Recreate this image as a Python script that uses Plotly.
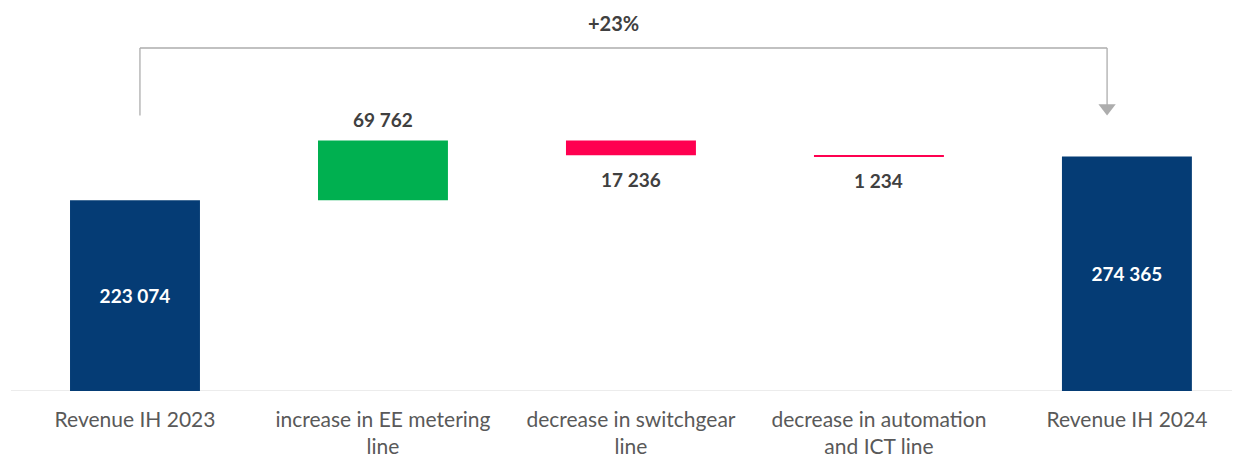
import plotly.graph_objects as go

categories = ["Revenue IH 2023", "increase in EE metering<br>line", "decrease in switchgear<br>line",
              "decrease in automation<br>and ICT line", "Revenue IH 2024"]
values = [223074, 69762, -17236, -1234, 274365]
measures = ["absolute", "relative", "relative", "relative", "absolute"]

NAVY = "#053C75"
GREEN = "#00B050"
RED = "#FF0050"
TXT = "#404040"
CAT = "#595959"
GRAY = "#ADADAD"

def fmt(v):
    return f"{abs(v):,}".replace(",", " ")

# running totals
ends = []
run = 0
for m, v in zip(measures, values):
    run = v if m == "absolute" else run + v
    ends.append(run)
peak = max(ends)
pct = round((values[-1] / values[0] - 1) * 100)

inside_text = [fmt(v) if m == "absolute" else "" for m, v in zip(measures, values)]

fig = go.Figure()
fig.add_trace(go.Waterfall(
    x=list(range(len(categories))), y=values, measure=measures,
    width=0.524,
    text=inside_text, textposition="inside", insidetextanchor="middle",
    insidetextfont=dict(color="white", size=19, family="Lato", weight="bold"),
    increasing=dict(marker=dict(color=GREEN)),
    decreasing=dict(marker=dict(color=RED)),
    totals=dict(marker=dict(color=NAVY)),
    connector=dict(visible=False),
    hoverinfo="skip",
))

# outside labels for relative bars
for i, (m, v) in enumerate(zip(measures, values)):
    if m != "relative":
        continue
    if v > 0:
        fig.add_annotation(x=i, y=ends[i], text=fmt(v), showarrow=False, yanchor="bottom", yshift=8,
                           font=dict(color=TXT, size=19, family="Lato", weight="bold"))
    else:
        fig.add_annotation(x=i, y=ends[i], text=fmt(v), showarrow=False, yanchor="top", yshift=-11,
                           font=dict(color=TXT, size=19, family="Lato", weight="bold"))

# bracket with arrow
xl, xr = 0.02, len(categories) - 1 - 0.08
yb = peak * 1.10
yt = peak * 1.37
yb_r = peak * 1.13
fig.add_shape(type="line", x0=xl, x1=xl, y0=yb, y1=yt, line=dict(color=GRAY, width=1.3))
fig.add_shape(type="line", x0=xl, x1=xr, y0=yt, y1=yt, line=dict(color=GRAY, width=1.3))
fig.add_shape(type="line", x0=xr, x1=xr, y0=yt, y1=yb_r, line=dict(color=GRAY, width=1.3))
fig.add_trace(go.Scatter(x=[xr], y=[yb_r], mode="markers",
                         marker=dict(symbol="triangle-down", size=15, color=GRAY),
                         hoverinfo="skip", showlegend=False))
fig.add_annotation(x=(xl + xr) / 2, y=peak * 1.47, xshift=-10, text=f"+{pct}%", showarrow=False,
                   font=dict(color=TXT, size=20, family="Lato", weight="bold"))

fig.update_layout(
    width=1232, height=449,
    margin=dict(l=3, r=0, t=0, b=66),
    plot_bgcolor="white", paper_bgcolor="white",
    showlegend=False,
    xaxis=dict(range=[-0.5, 4.456], tickmode="array", tickvals=list(range(len(categories))),
               ticktext=categories, showgrid=False, zeroline=False, showline=False,
               ticks="", ticklabelstandoff=14, automargin=False,
               tickfont=dict(color=CAT, size=21, family="Lato")),
    yaxis=dict(range=[0, peak * 1.5297], visible=False, showgrid=False, zeroline=False),
)
fig.add_shape(type="line", xref="paper", yref="y", x0=0, x1=1, y0=0, y1=0,
              line=dict(color="#D9D9D9", width=1), layer="below")

fig.write_html("out.html")
